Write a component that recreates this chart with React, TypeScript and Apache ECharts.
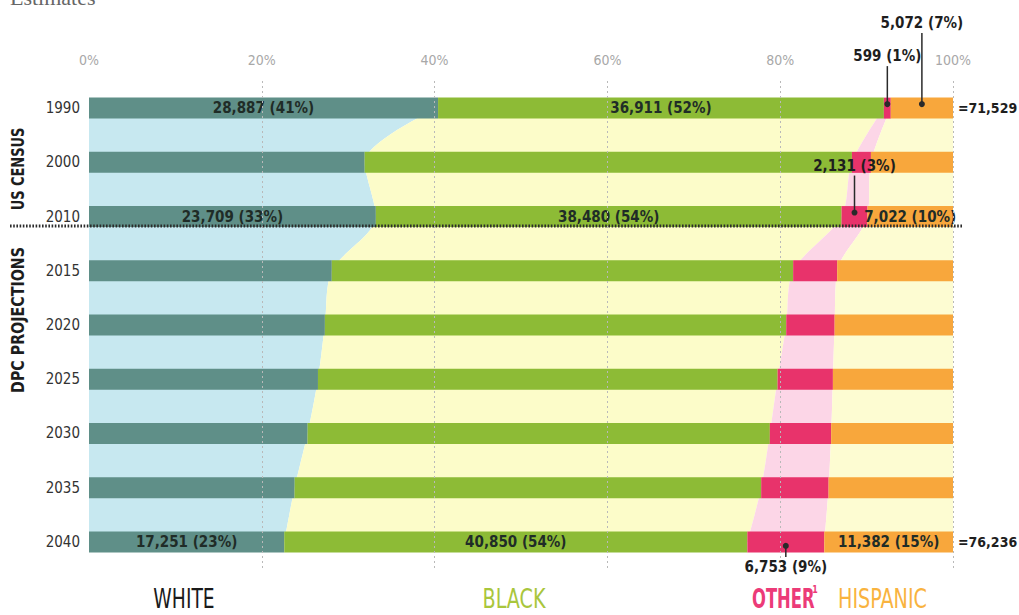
import React, { useEffect, useRef } from "react";
import * as echarts from "echarts";

// ---- data (percent shares of population) ----
const years = ["1990", "2000", "2010", "2015", "2020", "2025", "2030", "2035", "2040"];
const white = [40.4, 31.9, 33.2, 28.1, 27.3, 26.5, 25.3, 23.8, 22.6];
const black = [51.6, 56.4, 53.9, 53.4, 53.4, 53.2, 53.5, 54.0, 53.6];
const other = [0.8, 2.2, 3.0, 5.1, 5.6, 6.4, 7.1, 7.8, 8.9];
const hispanic = [7.2, 9.5, 9.9, 13.4, 13.7, 13.9, 14.1, 14.4, 14.9];

const whiteLabels = ["28,887 (41%)", "", "23,709 (33%)", "", "", "", "", "", "17,251 (23%)"];
const blackLabels = ["36,911 (52%)", "", "38,480 (54%)", "", "", "", "", "", "40,850 (54%)"];
const hispanicLabels = ["", "", "7,022 (10%)", "", "", "", "", "", "11,382 (15%)"];
const otherNotes = ["599 (1%)", "", "2,131 (3%)", "", "", "", "", "", "6,753 (9%)"];
const hispanicNotes = ["5,072 (7%)", "", "", "", "", "", "", "", ""];
const totals = ["=71,529", "", "", "", "", "", "", "", "=76,236"];

const xTicks = [0, 20, 40, 60, 80, 100];
const gridLines = [20, 40, 60, 80, 100];

// ---- style ----
const FONT = '"Liberation Sans Narrow", "DejaVu Sans Condensed", "Roboto", sans-serif';
const C = {
  white: "#5f8f88",
  black: "#8dbb36",
  other: "#e8336b",
  hispanic: "#f8a73c",
  bgWhite: "#c7e8f0",
  bgBlack: "#fcfcc9",
  bgOther: "#fcd6e7",
  bgHisp: "#fdfcd2",
  text: "#1f2c27",
};
// callout leader style per segment/row: direction (-1 up, +1 down) and length in px
const otherLeader = [
  { dir: -1, len: 42 },
  null,
  { dir: -1, len: 41 },
  null, null, null, null, null,
  { dir: 1, len: 15 },
];
const hispanicLeader = [{ dir: -1, len: 75 }];

function barData(vals: number[], labels: string[]) {
  return vals.map((v, i) => ({
    value: v,
    label: labels[i]
      ? { show: true, formatter: labels[i] }
      : { show: false },
  }));
}

export default function App() {
  const ref = useRef<HTMLDivElement>(null);
  useEffect(() => {
    if (!ref.current) return;
    const chart = echarts.init(ref.current, null, { renderer: "svg" });

    const callouts: { x: number; row: number; text: string; dir: number; len: number }[] = [];
    years.forEach((_, i) => {
      const wb = white[i] + black[i];
      if (otherNotes[i] && otherLeader[i]) {
        callouts.push({ x: wb + other[i] / 2, row: i, text: otherNotes[i], ...(otherLeader[i] as any) });
      }
      if (hispanicNotes[i] && hispanicLeader[i]) {
        callouts.push({ x: wb + other[i] + hispanic[i] / 2, row: i, text: hispanicNotes[i], ...(hispanicLeader[i] as any) });
      }
    });
    const totalItems = totals
      .map((t, i) => ({ t, i }))
      .filter((d) => d.t)
      .map((d) => [white[d.i] + black[d.i] + other[d.i] + hispanic[d.i], d.i, d.i]);

    const barLabel = {
      position: "inside",
      color: C.text,
      fontFamily: FONT,
      fontWeight: "bold",
      fontSize: 15,
    };

    const bgLine = (name: string, data: number[], color: string, extra: any = {}) => ({
      name,
      type: "line",
      stack: "bg",
      data,
      smooth: 0.3,
      symbol: "none",
      lineStyle: { width: 0 },
      areaStyle: { color, opacity: 1 },
      z: 1,
      silent: true,
      ...extra,
    });

    const legendText = (text: string, x: number, fill: string, sx: number, bold = false, align = "center") => ({
      type: "text",
      x,
      y: 599,
      scaleX: sx,
      style: { text, fontSize: 26, fontWeight: bold ? "bold" : "normal", fontFamily: FONT, fill, align, verticalAlign: "middle" },
    });

    const option: any = {
      animation: false,
      grid: { left: 89, right: 66, top: 81, bottom: 46 },
      xAxis: {
        type: "value",
        position: "top",
        min: 0,
        max: 100,
        interval: 20,
        axisLine: { show: false },
        axisTick: { show: false },
        splitLine: { show: false },
        axisLabel: {
          formatter: (v: number) => (xTicks.includes(v) ? v + "%" : ""),
          color: "#a8a8a8",
          fontSize: 14,
          fontFamily: FONT,
          margin: 14,
        },
      },
      yAxis: {
        type: "category",
        inverse: true,
        data: years,
        axisLine: { show: false },
        axisTick: { show: false },
        axisLabel: { color: "#333", fontSize: 15, fontFamily: FONT, margin: 9 },
      },
      graphic: [
        {
          type: "text",
          left: 10,
          top: -14,
          style: { text: "Estimates", fontSize: 22, fontFamily: '"Liberation Serif", "DejaVu Serif", serif', fill: "#666" },
        },
        {
          type: "line",
          shape: { x1: 10, y1: 226, x2: 962, y2: 226 },
          style: { stroke: "#2b2b2b", lineWidth: 3, lineDash: [1.6, 1.6] },
          z: 10,
        },
        {
          type: "text",
          x: 18,
          y: 169,
          rotation: Math.PI / 2,
          scaleX: 0.8,
          style: { text: "US CENSUS", fontSize: 18, fontWeight: "bold", fontFamily: FONT, fill: "#1d1d1d", align: "center", verticalAlign: "middle" },
        },
        {
          type: "text",
          x: 18,
          y: 320,
          rotation: Math.PI / 2,
          scaleX: 0.88,
          style: { text: "DPC PROJECTIONS", fontSize: 18, fontWeight: "bold", fontFamily: FONT, fill: "#1d1d1d", align: "center", verticalAlign: "middle" },
        },
        legendText("WHITE", 184, "#1a1a1a", 0.8),
        legendText("BLACK", 514, "#a9c63c", 0.82),
        legendText("OTHER", 752, "#ec3b78", 0.7, true, "left"),
        {
          type: "text",
          x: 815,
          y: 589,
          scaleX: 0.8,
          style: { text: "1", fontSize: 11, fontWeight: "bold", fontFamily: FONT, fill: "#ec3b78", align: "center", verticalAlign: "middle" },
        },
        legendText("HISPANIC", 838, "#f9b33e", 0.82, false, "left"),
      ],
      series: [
        bgLine("bgWhite", white, C.bgWhite),
        bgLine("bgBlack", black, C.bgBlack),
        bgLine("bgOther", other, C.bgOther),
        bgLine("bgHisp", hispanic, C.bgHisp, {
          markLine: {
            silent: true,
            symbol: "none",
            label: { show: false },
            lineStyle: { color: "#b9b9b9", type: [2, 3], width: 1 },
            data: gridLines.map((g) => ({ xAxis: g })),
          },
        }),
        { name: "White", type: "bar", stack: "bar", barWidth: 21, z: 3, itemStyle: { color: C.white }, label: barLabel, data: barData(white, whiteLabels) },
        { name: "Black", type: "bar", stack: "bar", barWidth: 21, z: 3, itemStyle: { color: C.black }, label: barLabel, data: barData(black, blackLabels) },
        { name: "Other", type: "bar", stack: "bar", barWidth: 21, z: 3, itemStyle: { color: C.other }, label: barLabel, data: barData(other, years.map(() => "")) },
        { name: "Hispanic", type: "bar", stack: "bar", barWidth: 21, z: 3, itemStyle: { color: C.hispanic }, label: barLabel, data: barData(hispanic, hispanicLabels) },
        {
          name: "callouts",
          type: "custom",
          z: 6,
          silent: true,
          encode: { x: 0, y: 1 },
          data: callouts.map((c, k) => [c.x, c.row, k]),
          renderItem: (params: any, api: any) => {
            const c = callouts[api.value(2)];
            const p = api.coord([api.value(0), api.value(1)]);
            const dotY = p[1] + c.dir * 4;
            const endY = p[1] + c.dir * c.len;
            return {
              type: "group",
              children: [
                { type: "line", shape: { x1: p[0], y1: dotY, x2: p[0], y2: endY }, style: { stroke: "#2a2a2a", lineWidth: 1.5 } },
                { type: "circle", shape: { cx: p[0], cy: dotY, r: 3 }, style: { fill: "#2a2a2a" } },
                {
                  type: "text",
                  style: {
                    text: c.text,
                    x: p[0],
                    y: endY + c.dir * 10,
                    align: "center",
                    verticalAlign: "middle",
                    fontSize: 15,
                    fontWeight: "bold",
                    fontFamily: FONT,
                    fill: "#1e1e1e",
                  },
                },
              ],
            };
          },
        },
        {
          name: "totals",
          type: "custom",
          z: 6,
          silent: true,
          encode: { x: 0, y: 1 },
          data: totalItems,
          renderItem: (params: any, api: any) => {
            const p = api.coord([api.value(0), api.value(1)]);
            return {
              type: "text",
              style: {
                text: totals[api.value(2)],
                x: p[0] + 5,
                y: p[1],
                align: "left",
                verticalAlign: "middle",
                fontSize: 14,
                fontWeight: "bold",
                fontFamily: FONT,
                fill: "#1e1e1e",
              },
            };
          },
        },
      ],
    };
    chart.setOption(option);
    return () => chart.dispose();
  }, []);

  return (
    <div
      ref={ref}
      style={{ position: "fixed", left: 0, top: 0, width: 1019, height: 615, background: "#fff" }}
    />
  );
}
